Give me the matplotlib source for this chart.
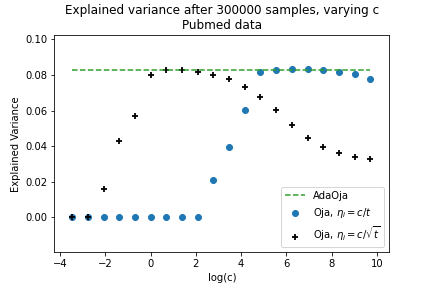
import matplotlib
matplotlib.use("Agg")
import matplotlib.pyplot as plt

# log(c) for c = 2^-5 ... 2^14
log_c = [-3.47, -2.77, -2.08, -1.39, -0.69, 0.0, 0.69, 1.39, 2.08, 2.77,
         3.47, 4.16, 4.85, 5.55, 6.24, 6.93, 7.62, 8.32, 9.01, 9.70]

# explained variance, eta = c/t
oja_t = [0.0, 0.0, 0.0, 0.0, 0.0, 0.0, 0.0, 0.0, 0.0, 0.0208,
         0.0393, 0.0601, 0.0815, 0.0826, 0.0831, 0.0831, 0.0826, 0.0815, 0.0803, 0.0775]

# explained variance, eta = c/sqrt(t)
oja_sqrt = [0.0, 0.0, 0.0161, 0.0430, 0.0571, 0.0801, 0.0829, 0.0829, 0.0818, 0.0801,
            0.0777, 0.0734, 0.0678, 0.0603, 0.0520, 0.0447, 0.0395, 0.0363, 0.0340, 0.0329]

adaoja = 0.0829

fig = plt.figure(figsize=(6, 4), dpi=72)
ax = fig.add_subplot(111)
fig.subplots_adjust(left=0.126, right=0.901, bottom=0.124, top=0.878)

ax.plot([log_c[0], log_c[-1]], [adaoja, adaoja], '--', color='tab:green', label='AdaOja')
ax.scatter(log_c, oja_t, color='tab:blue', label=r'Oja, $\eta_i = c/t$')
ax.scatter(log_c, oja_sqrt, color='k', marker='+', linewidths=1.8,
           label=r'Oja, $\eta_i = c/\sqrt{t}$')

ax.set_xlim(-4.25, 10.54)
ax.set_ylim(-0.0197, 0.1024)
ax.set_title('Explained variance after 300000 samples, varying c\nPubmed data')
ax.set_xlabel('log(c)')
ax.set_ylabel('Explained Variance')
ax.legend(loc='lower right')

fig.savefig('out.png', dpi=72)
